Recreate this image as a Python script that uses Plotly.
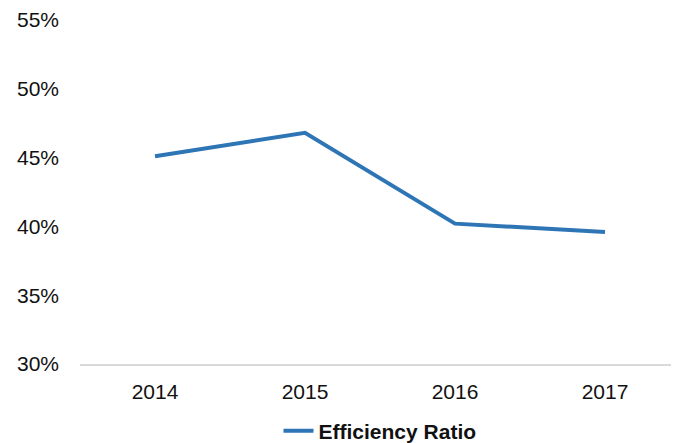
import plotly.graph_objects as go

years = ["2014", "2015", "2016", "2017"]
efficiency_ratio = [0.451, 0.468, 0.402, 0.396]
y_ticks = [0.30, 0.35, 0.40, 0.45, 0.50, 0.55]
y_tick_labels = ["30%", "35%", "40%", "45%", "50%", "55%"]

fig = go.Figure()
fig.add_trace(go.Scatter(
    x=years, y=efficiency_ratio, mode="lines", name="Efficiency Ratio",
    line=dict(color="#2E75B6", width=4),
))

# page body has an 8px default margin; plot area lands at page x 80..680, y 20..364
fig.update_layout(
    width=672, height=450,
    margin=dict(l=72, r=0, t=12, b=94),
    paper_bgcolor="white", plot_bgcolor="white",
    font=dict(family="Liberation Sans, Arial, sans-serif", size=21, color="#111111"),
    showlegend=True,
    legend=dict(orientation="h", x=0.5, xanchor="center", y=-0.1948, yanchor="middle",
                font=dict(size=21, color="#111111", weight="bold"),
                itemwidth=30),
    xaxis=dict(type="category", range=[-0.5, 3.5], showgrid=False, showline=True,
               linecolor="#d9d9d9", linewidth=1.5, ticks="", ticklabelstandoff=8,
               zeroline=False, automargin=False),
    yaxis=dict(range=[0.30, 0.55], tickvals=y_ticks, ticktext=y_tick_labels,
               showgrid=False, showline=False, zeroline=False, ticks="",
               ticklabelstandoff=20, automargin=False, ticklabeloverflow="allow"),
)

fig.write_html("out.html")
